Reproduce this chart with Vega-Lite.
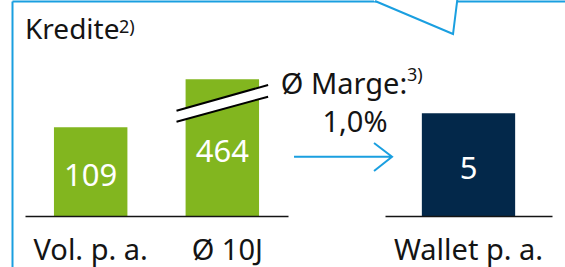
{
  "$schema": "https://vega.github.io/schema/vega-lite/v6.json",
  "width": 553,
  "height": 266,
  "autosize": {"type": "none"},
  "padding": {"left": 12, "top": 1, "right": 0, "bottom": 0},
  "background": "white",
  "config": {"view": {"stroke": null}, "font": "Noto Sans"},
  "resolve": {
    "scale": {"x": "independent", "y": "independent"},
    "axis": {"x": "independent", "y": "independent"}
  },
  "layer": [
    {
      "data": {"values": [
        {"Kategorie": "Vol. p. a.", "Wert": 109},
        {"Kategorie": "Ø 10J", "Wert": 464}
      ]},
      "encoding": {
        "x": {
          "field": "Kategorie", "type": "nominal", "sort": null,
          "scale": {"domain": ["Vol. p. a.", "Ø 10J"], "range": [13, 276], "paddingInner": 0.442, "paddingOuter": 0.22},
          "axis": {"orient": "bottom", "offset": -51, "title": null, "ticks": false, "tickSize": 0, "grid": false,
                   "domainColor": "#141414", "domainWidth": 1.7, "labelFont": "Noto Sans", "labelFontSize": 29,
                   "labelColor": "#141414", "labelPadding": 43, "labelBaseline": "alphabetic", "labelAngle": 0,
                   "labelOffset": {"condition": {"test": "datum.value === 'Ø 10J'", "value": 5}, "value": 0},
                   "labelOverlap": false, "zindex": 1}
        }
      },
      "resolve": {"scale": {"y": "independent"}, "axis": {"y": "independent"}},
      "layer": [
        {
          "mark": {"type": "bar", "color": "#82b61f"},
          "encoding": {"y": {"field": "Wert", "type": "quantitative",
            "scale": {"domain": [0, 168], "range": [215, 78.3], "clamp": true}, "axis": null}}
        },
        {
          "mark": {"type": "text", "color": "white", "fontSize": 31, "align": "center", "baseline": "alphabetic", "dy": 14},
          "encoding": {
            "y": {"field": "Wert", "type": "quantitative",
              "scale": {"domain": [0, 168], "range": [215, 146.65], "clamp": true}, "axis": null},
            "text": {"field": "Wert", "type": "quantitative"}
          }
        },
        {
          "transform": [{"filter": "datum.Wert > 168"}],
          "mark": {"type": "point", "filled": true, "color": "white", "opacity": 1, "strokeWidth": 0, "size": 10000,
                   "shape": "M -0.916 0.628 L 0.916 0.114 L 0.916 0.348 L -0.916 0.848 Z"},
          "encoding": {"y": {"field": "Wert", "type": "quantitative",
            "scale": {"domain": [0, 168], "range": [215, 78.3], "clamp": true}, "axis": null}}
        },
        {
          "transform": [{"filter": "datum.Wert > 168"}],
          "mark": {"type": "point", "filled": false, "stroke": "#000000", "strokeWidth": 2, "opacity": 1, "size": 10000,
                   "shape": "M -0.916 0.628 L 0.916 0.114 M -0.916 0.848 L 0.916 0.348"},
          "encoding": {"y": {"field": "Wert", "type": "quantitative",
            "scale": {"domain": [0, 168], "range": [215, 78.3], "clamp": true}, "axis": null}}
        }
      ]
    },
    {
      "data": {"values": [
        {"Kategorie": "Wallet p. a.", "Wert": 5}
      ]},
      "encoding": {
        "x": {
          "field": "Kategorie", "type": "nominal",
          "scale": {"domain": ["Wallet p. a."], "range": [373, 540], "paddingInner": 0, "paddingOuter": 0.395},
          "axis": {"orient": "bottom", "offset": -51, "title": null, "ticks": false, "tickSize": 0, "grid": false,
                   "domainColor": "#141414", "domainWidth": 1.7, "labelFont": "Noto Sans", "labelFontSize": 29,
                   "labelColor": "#141414", "labelPadding": 43, "labelBaseline": "alphabetic", "labelAngle": 0,
                   "labelOverlap": false, "zindex": 1}
        }
      },
      "resolve": {"scale": {"y": "independent"}, "axis": {"y": "independent"}},
      "layer": [
        {
          "mark": {"type": "bar", "color": "#03284a"},
          "encoding": {"y": {
            "field": "Wert", "type": "quantitative",
            "scale": {"domain": [-2.483, 10.467]},
            "axis": {"orient": "left", "title": null, "labels": false, "ticks": false, "grid": false,
                     "domainColor": "#1a9fe0", "domainWidth": 2, "zindex": 0}
          }}
        },
        {
          "mark": {"type": "text", "color": "white", "fontSize": 31, "align": "center", "baseline": "alphabetic", "dy": 14},
          "encoding": {
            "y": {"field": "Wert", "type": "quantitative",
              "scale": {"domain": [0, 20.934], "range": [215, 0]}, "axis": null},
            "text": {"field": "Wert", "type": "quantitative"}
          }
        }
      ]
    },
    {
      "data": {"values": [
        {"Kennzahl": "Ø Marge:", "Marge": "1,0%", "Titel": "Kredite", "Fn1": "2)", "Fn2": "3)"}
      ]},
      "encoding": {
        "x": {
          "field": "Kennzahl", "type": "nominal",
          "scale": {"type": "point", "domain": ["Ø Marge:"], "range": [0, 553], "align": 0.5986},
          "axis": {"orient": "top", "title": null, "labels": false, "ticks": false, "grid": false,
                   "domainColor": "#1a9fe0", "domainWidth": 2, "zindex": 0}
        }
      },
      "layer": [
        {
          "mark": {"type": "point", "filled": true, "color": "white", "opacity": 1, "strokeWidth": 0, "size": 10000,
                   "shape": "M 0.62 -2.72 L 0.62 -2.66 L 2.2 -2.0 L 2.3 -2.72 Z"}
        },
        {
          "mark": {"type": "point", "filled": false, "stroke": "#1a9fe0", "strokeWidth": 2, "opacity": 1, "size": 10000,
                   "shape": "M 0.64 -2.66 L 2.2 -2.0 L 2.29 -2.72"}
        },
        {
          "mark": {"type": "point", "filled": false, "stroke": "#1a9fe0", "strokeWidth": 2, "opacity": 1, "size": 10000,
                   "shape": "M -0.98 0.454 L 0.98 0.454 M 0.62 0.18 L 0.98 0.454 L 0.62 0.74"}
        },
        {
          "mark": {"type": "text", "align": "left", "baseline": "alphabetic", "fontSize": 28, "color": "#141414", "dx": -318, "dy": -95},
          "encoding": {"text": {"field": "Titel"}}
        },
        {
          "mark": {"type": "text", "align": "left", "baseline": "alphabetic", "fontSize": 18, "color": "#141414", "dx": -224, "dy": -101},
          "encoding": {"text": {"field": "Fn1"}}
        },
        {
          "mark": {"type": "text", "align": "center", "baseline": "alphabetic", "fontSize": 29, "color": "#141414", "dx": 1, "dy": -40},
          "encoding": {"text": {"field": "Kennzahl"}}
        },
        {
          "mark": {"type": "text", "align": "left", "baseline": "alphabetic", "fontSize": 18, "color": "#141414", "dx": 64, "dy": -53},
          "encoding": {"text": {"field": "Fn2"}}
        },
        {
          "mark": {"type": "text", "align": "center", "baseline": "alphabetic", "fontSize": 29, "color": "#141414", "dx": 12, "dy": -2},
          "encoding": {"text": {"field": "Marge"}}
        }
      ]
    }
  ]
}
